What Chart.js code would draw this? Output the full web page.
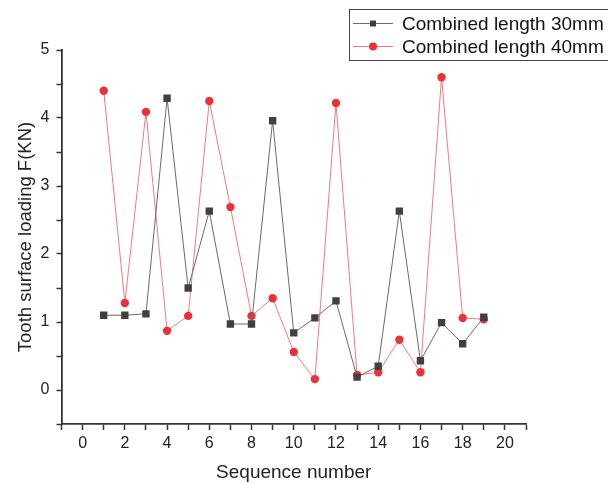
<!DOCTYPE html>
<html>
<head>
<meta charset="utf-8">
<script src="https://cdn.jsdelivr.net/npm/chart.js@4.4.1/dist/chart.umd.min.js"></script>
<style>
  html, body { margin: 0; padding: 0; background: #fff; }
  #wrap { width: 608px; height: 484px; position: relative; }
</style>
</head>
<body>
<div id="wrap"><canvas id="chart" width="608" height="484"></canvas></div>
<script>
// data
const sequence = [1, 2, 3, 4, 5, 6, 7, 8, 9, 10, 11, 12, 13, 14, 15, 16, 17, 18, 19];
const length30 = [1.10, 1.10, 1.12, 4.29, 1.50, 2.63, 0.97, 0.97, 3.96, 0.84, 1.06, 1.31, 0.19, 0.35, 2.63, 0.43, 0.99, 0.68, 1.07];
const length40 = [4.40, 1.28, 4.09, 0.87, 1.09, 4.25, 2.69, 1.09, 1.35, 0.56, 0.16, 4.22, 0.22, 0.26, 0.74, 0.26, 4.60, 1.06, 1.04];
const seriesNames = ['Combined length 30mm', 'Combined length 40mm'];
const xTickLabels = [0, 2, 4, 6, 8, 10, 12, 14, 16, 18, 20];
const yTickLabels = [0, 1, 2, 3, 4, 5];

const FONT = '"Liberation Sans", Arial, sans-serif';

function toPoints(values) {
    return sequence.map((x, i) => ({ x: x, y: values[i] }));
}

// legend box drawn by hand so it can sit outside the plot area
const boxLegend = {
    id: 'boxLegend',
    afterDraw(chart) {
        const ctx = chart.ctx;
        ctx.save();
        ctx.strokeStyle = '#444';
        ctx.lineWidth = 1;
        ctx.strokeRect(349.5, 9.5, 262, 51);
        chart.data.datasets.forEach((ds, i) => {
            const y = 23.5 + i * 23;
            ctx.strokeStyle = ds.borderColor;
            ctx.lineWidth = 1;
            ctx.beginPath();
            ctx.moveTo(353, y);
            ctx.lineTo(393, y);
            ctx.stroke();
            ctx.fillStyle = ds.pointBackgroundColor;
            ctx.beginPath();
            if (ds.pointStyle === 'rect') {
                ctx.rect(370, y - 3, 6, 6);
            } else {
                ctx.arc(373, y, 4, 0, Math.PI * 2);
            }
            ctx.fill();
            ctx.fillStyle = '#111';
            ctx.font = '19px ' + FONT;
            ctx.textBaseline = 'middle';
            ctx.fillText(ds.label, 402, y + 1);
        });
        ctx.restore();
    }
};

new Chart(document.getElementById('chart'), {
    type: 'line',
    data: {
        datasets: [
            {
                label: seriesNames[0],
                data: toPoints(length30),
                borderColor: '#6a6a6a',
                borderWidth: 1,
                pointStyle: 'rect',
                pointRadius: 5.2,
                pointBackgroundColor: '#404040',
                pointBorderWidth: 0,
                tension: 0
            },
            {
                label: seriesNames[1],
                data: toPoints(length40),
                borderColor: '#f07a7f',
                borderWidth: 1,
                pointStyle: 'circle',
                pointRadius: 4.2,
                pointBackgroundColor: '#ec3038',
                pointBorderWidth: 0,
                tension: 0
            }
        ]
    },
    options: {
        responsive: false,
        animation: false,
        layout: { padding: { top: 50, right: 82, left: 0, bottom: 0 } },
        plugins: {
            legend: { display: false },
            tooltip: { enabled: false }
        },
        scales: {
            x: {
                type: 'linear',
                min: -1,
                max: 21,
                afterFit(scale) { scale.height = 60; },
                afterBuildTicks(scale) {
                    scale.ticks = [];
                    for (let v = -1; v <= 21; v++) scale.ticks.push({ value: v });
                },
                ticks: {
                    autoSkip: false,
                    maxRotation: 0,
                    padding: 4,
                    color: '#222',
                    font: { family: FONT, size: 16 },
                    callback: v => xTickLabels.includes(v) ? String(v) : ''
                },
                grid: {
                    drawOnChartArea: false,
                    tickLength: 6,
                    tickColor: '#333',
                    tickWidth: 1.5
                },
                border: { color: '#333', width: 1.8 },
                title: {
                    display: true,
                    text: 'Sequence number',
                    color: '#222',
                    font: { family: FONT, size: 19 },
                    padding: { top: 0, bottom: 0 }
                }
            },
            y: {
                min: -0.5,
                max: 5,
                afterFit(scale) { scale.width = 61.5; },
                afterBuildTicks(scale) {
                    scale.ticks = [];
                    for (let v = -0.5; v <= 5.001; v += 0.5) scale.ticks.push({ value: Math.round(v * 10) / 10 });
                },
                ticks: {
                    padding: 7,
                    color: '#222',
                    font: { family: FONT, size: 16 },
                    callback: v => yTickLabels.includes(v) ? String(v) : ''
                },
                grid: {
                    drawOnChartArea: false,
                    tickLength: 5,
                    tickColor: '#333',
                    tickWidth: 1.5
                },
                border: { color: '#333', width: 1.8 },
                title: {
                    display: true,
                    text: 'Tooth surface loading F(KN)',
                    color: '#222',
                    font: { family: FONT, size: 18.5 },
                    padding: { top: 15, bottom: 0 }
                }
            }
        }
    },
    plugins: [boxLegend]
});
</script>
</body>
</html>
